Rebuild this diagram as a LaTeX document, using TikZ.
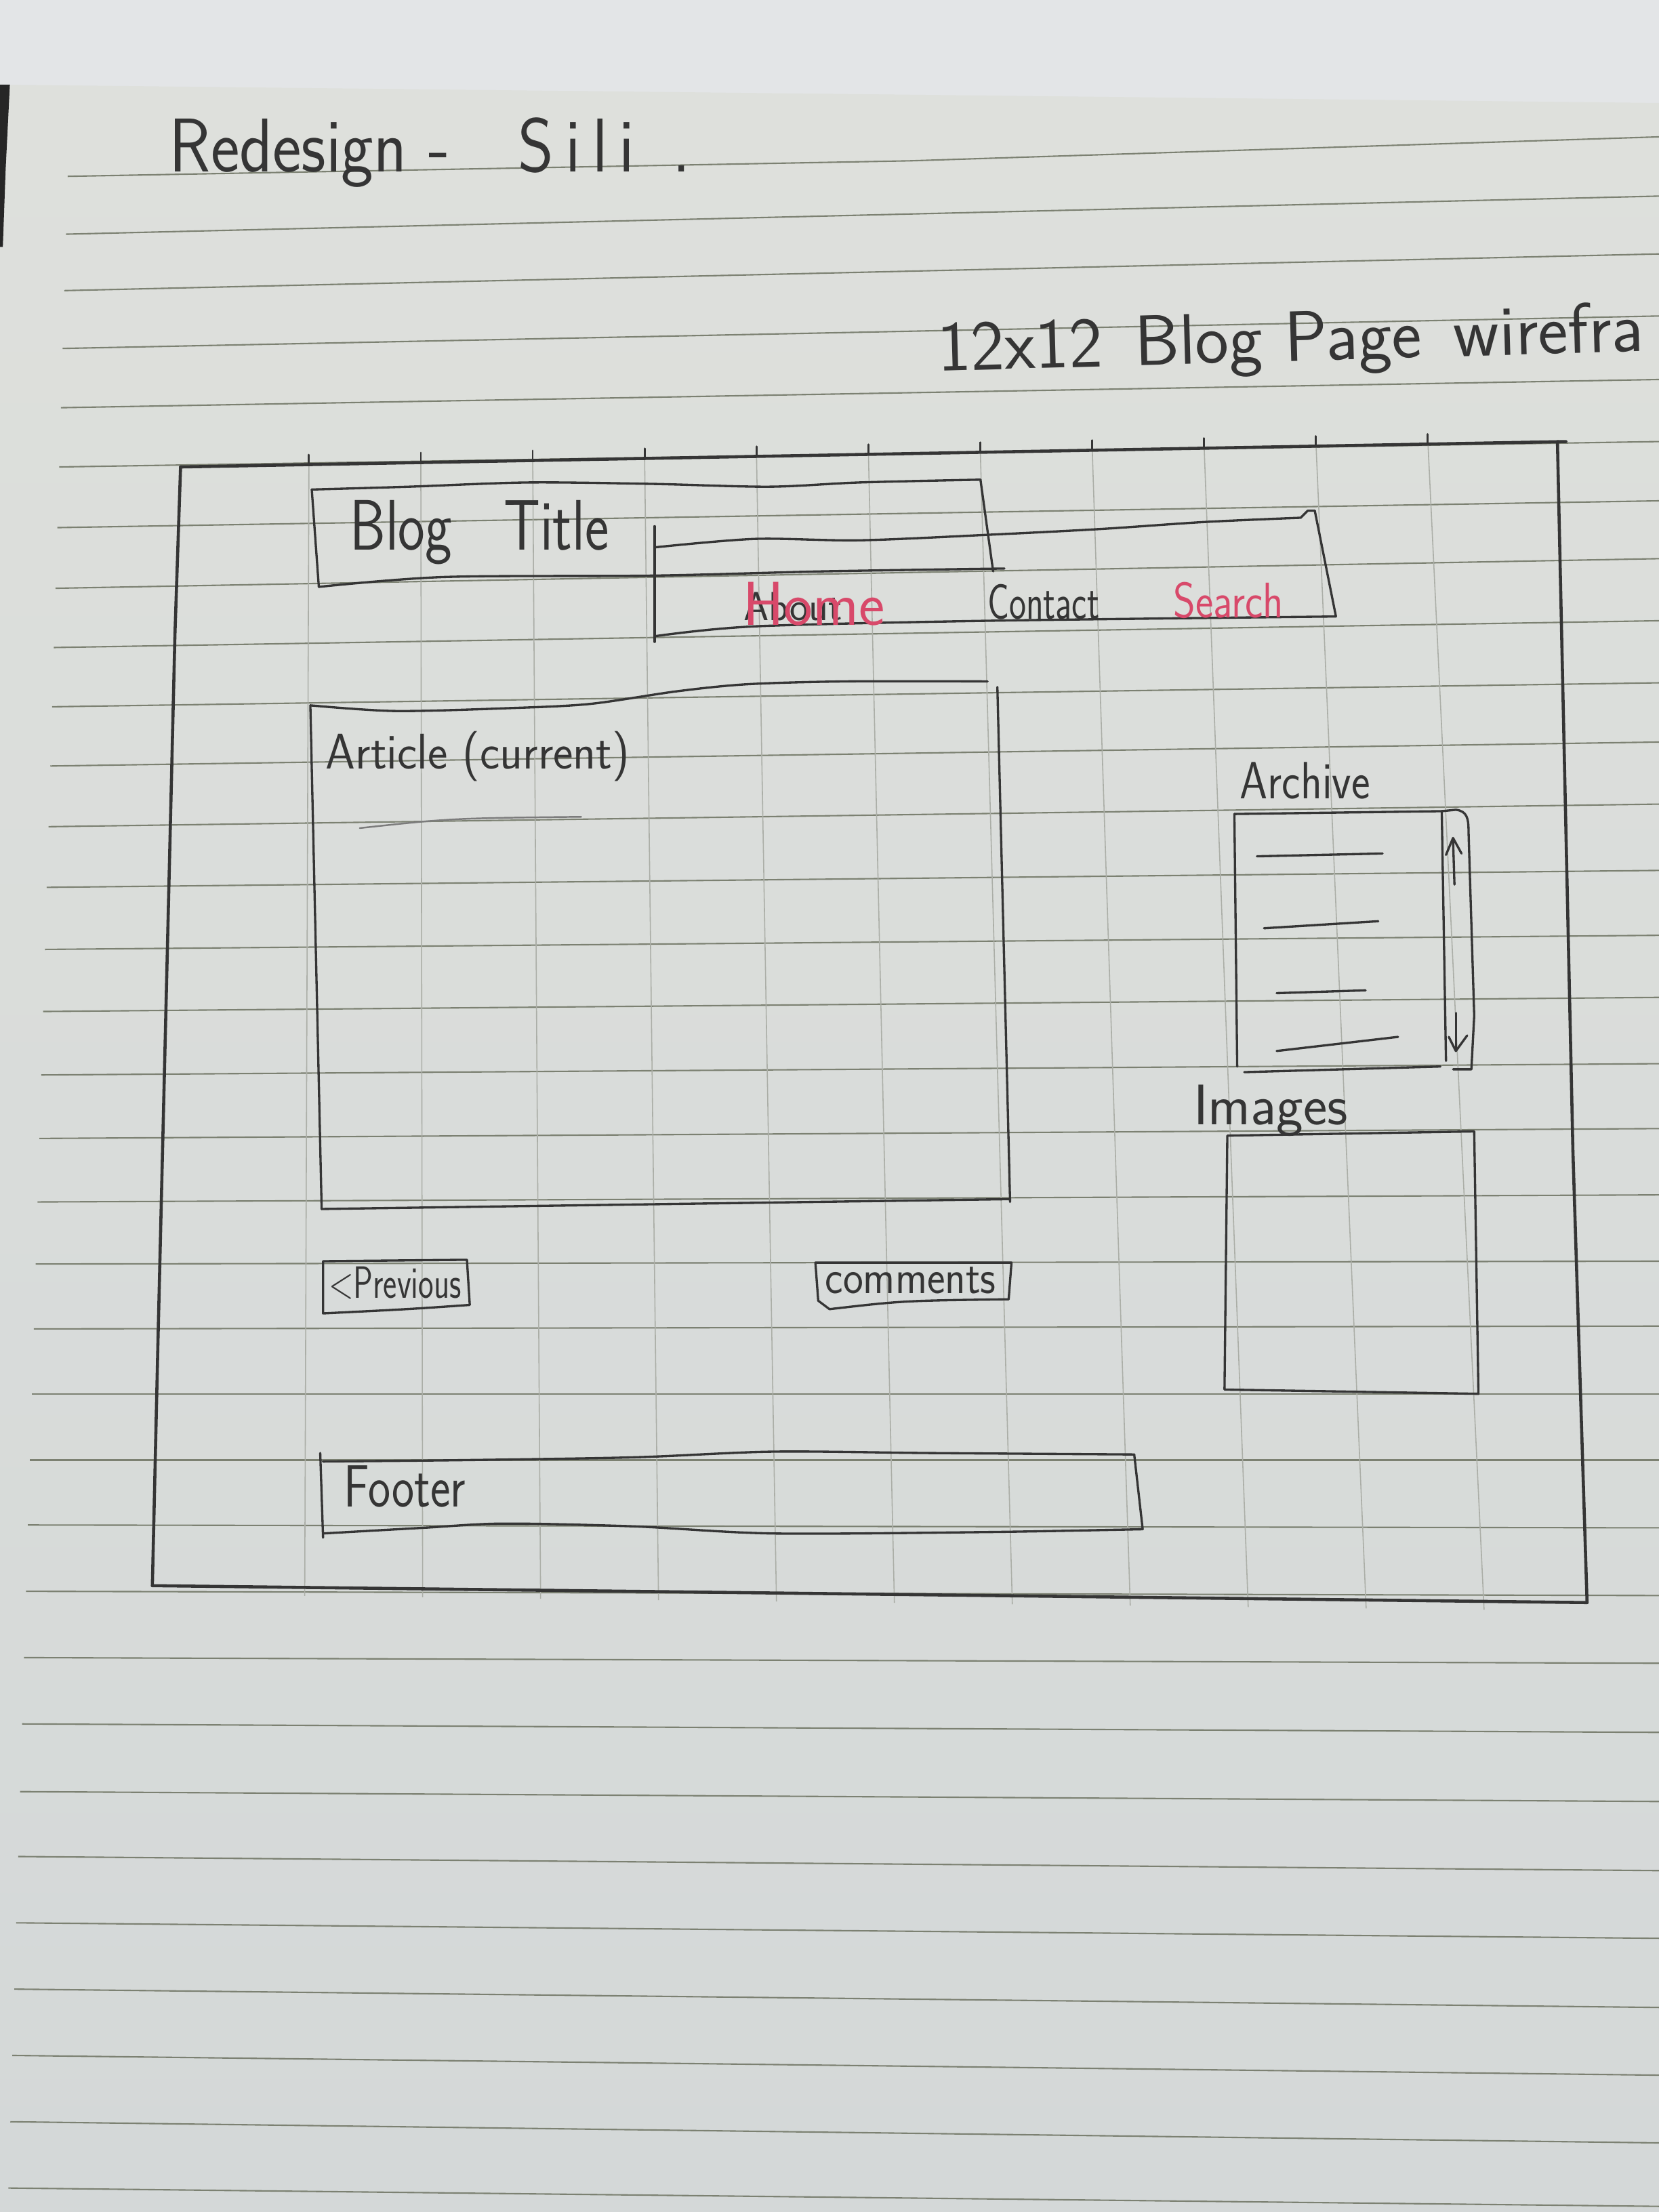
\documentclass[tikz,border=0pt]{standalone}
\usepackage{graphicx}
\usetikzlibrary{calc}

\definecolor{wallc}{HTML}{E3E5E7}
\definecolor{paperhi}{HTML}{DEE0DC}
\definecolor{paperlo}{HTML}{D4D8D8}
\definecolor{rulec}{HTML}{7C8172}
\definecolor{gridc}{HTML}{ABAEA7}
\definecolor{ink}{HTML}{353535}
\definecolor{redink}{HTML}{D8496A}

\newcommand\fsz[1]{\fontsize{#1}{#1}\selectfont}

\tikzset{
  ruled/.style={draw=rulec, line width=0.6pt},
  gridline/.style={draw=gridc, line width=0.45pt},
  pen/.style={draw=ink, line width=0.95pt, line cap=round, line join=round},
  framepen/.style={draw=ink, line width=1.3pt, line cap=round, line join=round},
  softpen/.style={draw=ink!65, line width=0.7pt, line cap=round},
  hand/.style={font=\sffamily, text=ink, inner sep=0pt, outer sep=0pt},
  redhand/.style={hand, text=redink},
}

\begin{document}
\begin{tikzpicture}[x=0.020816cm, y=-0.020816cm]
\useasboundingbox (0,0) rectangle (1176,1568);
\begin{scope}
\clip (0,0) rectangle (1176,1568);

% wall behind the notebook and the sheet itself
\fill[wallc] (0,0) rectangle (1176,1568);
\shade[top color=paperhi, bottom color=paperlo]
  (0,60) -- (1176,73) -- (1176,1568) -- (0,1568) -- cycle;
\fill[black!85] (0,60) -- (7,60) -- (4,120) -- (2,175) -- (0,175) -- cycle;

% ruled lines of the notebook
\draw[ruled] (48,125) -- (645,114) -- (1176,97);
\foreach \ly/\ry in {166/139, 206/180, 247/224, 289/269, 331/313, 374/355,
  417/396, 459/440, 501/484, 543/526, 586/570, 629/617, 673/663, 717/707,
  762/754, 807/800, 852/847, 896/894, 942/940, 988/988, 1035/1035,
  1081/1083, 1128/1131, 1175/1179, 1222/1228, 1270/1277, 1316/1326,
  1363/1374, 1410/1423, 1457/1471, 1504/1519, 1551/1564}
  \draw[ruled] ({48-0.0295*(\ly-125)},\ly) -- (1176,\ry);

% twelve-column pencil grid with ink ticks on the top edge
\foreach \k in {0,...,10} {
  \pgfmathsetmacro\xt{219+79.3*\k}
  \pgfmathsetmacro\xb{216+83.6*\k}
  \pgfmathsetmacro\yt{331-18*(\xt-128)/976}
  \pgfmathsetmacro\yb{1124+12*(\xb-108)/1017}
  \draw[gridline] (\xt,{\yt-5}) -- (\xb,{\yb+6});
  \draw[pen, line width=0.8pt] (\xt,\yt) -- (\xt,{\yt-7});
}

% outer page frame
\draw[framepen] (128,331) -- (1110,313);
\draw[framepen] (128,331) -- (124,450) -- (118,700) -- (112,950) -- (108,1124);
\draw[framepen] (108,1124) -- (1125,1136);
\draw[framepen] (1104,313) -- (1115,817) -- (1125,1136);

% headings
\node[hand, anchor=base west] (heading) at (120,122)
  {\fsz{32}\scalebox{0.9}[1]{Redesign -\quad S\,i\,l\,i\;\;.}};
\node[hand, anchor=base west, rotate=1.6] (subject) at (665,263)
  {\fsz{30}12x12\hspace{0.45em}Blog Page\hspace{0.45em}wirefra};

% blog title block
\draw[pen] plot[smooth] coordinates {(221,347) (290,345) (374,342) (462,343) (545,345) (609,342) (695,340)};
\draw[pen] (695,340) -- (704,405);
\draw[pen] (221,347) -- (226,416);
\draw[pen] plot[smooth] coordinates {(226,416) (315,409) (464,408) (584,405) (712,403)};
\node[hand, anchor=base west] (blogtitle) at (248,390)
  {\fsz{30}\scalebox{0.8}[1]{Blog\hspace{0.9em}Title}};

% navigation bar
\draw[pen] (464,373) -- (464,455);
\draw[pen] plot[smooth] coordinates {(464,388) (535,382) (609,383) (702,379) (780,375) (854,370) (922,367)} -- (927,362) -- (932,362);
\draw[pen] (932,362) -- (947,437);
\draw[pen] plot[smooth] coordinates {(464,451) (535,444) (702,440) (947,437)};
\node[hand, anchor=base] (about) at (562,440) {\fsz{17}About};
\node[redhand, anchor=base] (home) at (577,443) {\fsz{26}Home};
\node[hand, anchor=base west] (contact) at (700,439)
  {\fsz{21}\scalebox{0.72}[1]{Contact}};
\node[redhand, anchor=base west] (search) at (832,438)
  {\fsz{21}\scalebox{0.85}[1]{Search}};

% article area
\draw[pen] plot[smooth] coordinates {(220,500) (280,504) (360,502) (418,499) (480,490) (530,485) (600,483) (700,483)};
\draw[pen] (707,487) -- (716,852);
\draw[pen] (220,500) -- (228,857);
\draw[pen] (228,857) -- (716,850);
\draw[softpen] (255,587) .. controls (320,580) .. (412,579);
\node[hand, anchor=base west] (article) at (231,545)
  {\fsz{21}\scalebox{0.95}[1]{Article (current)}};

% buttons under the article
\draw[pen] (229,894) -- (331,893) -- (333,925) .. controls (290,928) .. (229,931) -- cycle;
\node[hand, anchor=base west] (previous) at (233,920)
  {\fsz{19}\scalebox{0.72}[1]{<Previous}};
\draw[pen] (578,895) -- (717,895) -- (715,921) .. controls (640,922) .. (588,928) -- (580,922) -- cycle;
\node[hand, anchor=base west] (comments) at (585,917)
  {\fsz{20}\scalebox{0.9}[1]{comments}};

% footer
\draw[pen] plot[smooth] coordinates {(229,1036) (330,1035) (450,1033) (548,1029) (660,1030) (804,1031)};
\draw[pen] (804,1031) -- (810,1084);
\draw[pen] plot[smooth] coordinates {(229,1087) (300,1083) (357,1080) (450,1082) (548,1087) (700,1086) (810,1084)};
\draw[pen] (227,1030) -- (229,1090);
\node[hand, anchor=base west] (footer) at (244,1068)
  {\fsz{25}\scalebox{0.8}[1]{Footer}};

% archive list with scroll bar
\node[hand, anchor=base west] (archive) at (879,566)
  {\fsz{22}\scalebox{0.85}[1]{Archive}};
\draw[pen] (875,577) -- (1022,575);
\draw[pen] (875,577) -- (877,756);
\draw[pen] (1022,575) -- (1025,752);
\draw[pen] (882,760) -- (1021,756);
\draw[pen] (1022,575) -- (1032,574) .. controls (1040,575) and (1041,580) .. (1041,590)
  -- (1045,720) -- (1043,758) -- (1030,758);
\draw[pen] (1031,627) -- (1030,595);
\draw[pen] (1025,606) -- (1030,594) -- (1036,605);
\draw[pen] (1032,718) -- (1032,743);
\draw[pen] (1027,735) -- (1032,745) -- (1040,734);
\draw[pen] (891,607) -- (980,605);
\draw[pen] (896,658) -- (977,653);
\draw[pen] (905,704) -- (968,702);
\draw[pen] (905,745) -- (991,735);

% images panel
\node[hand, anchor=base west] (images) at (846,797) {\fsz{24}Images};
\draw[pen] (870,805) -- (1045,802) -- (1048,988) -- (868,985) -- cycle;

\end{scope}
\end{tikzpicture}
\end{document}
